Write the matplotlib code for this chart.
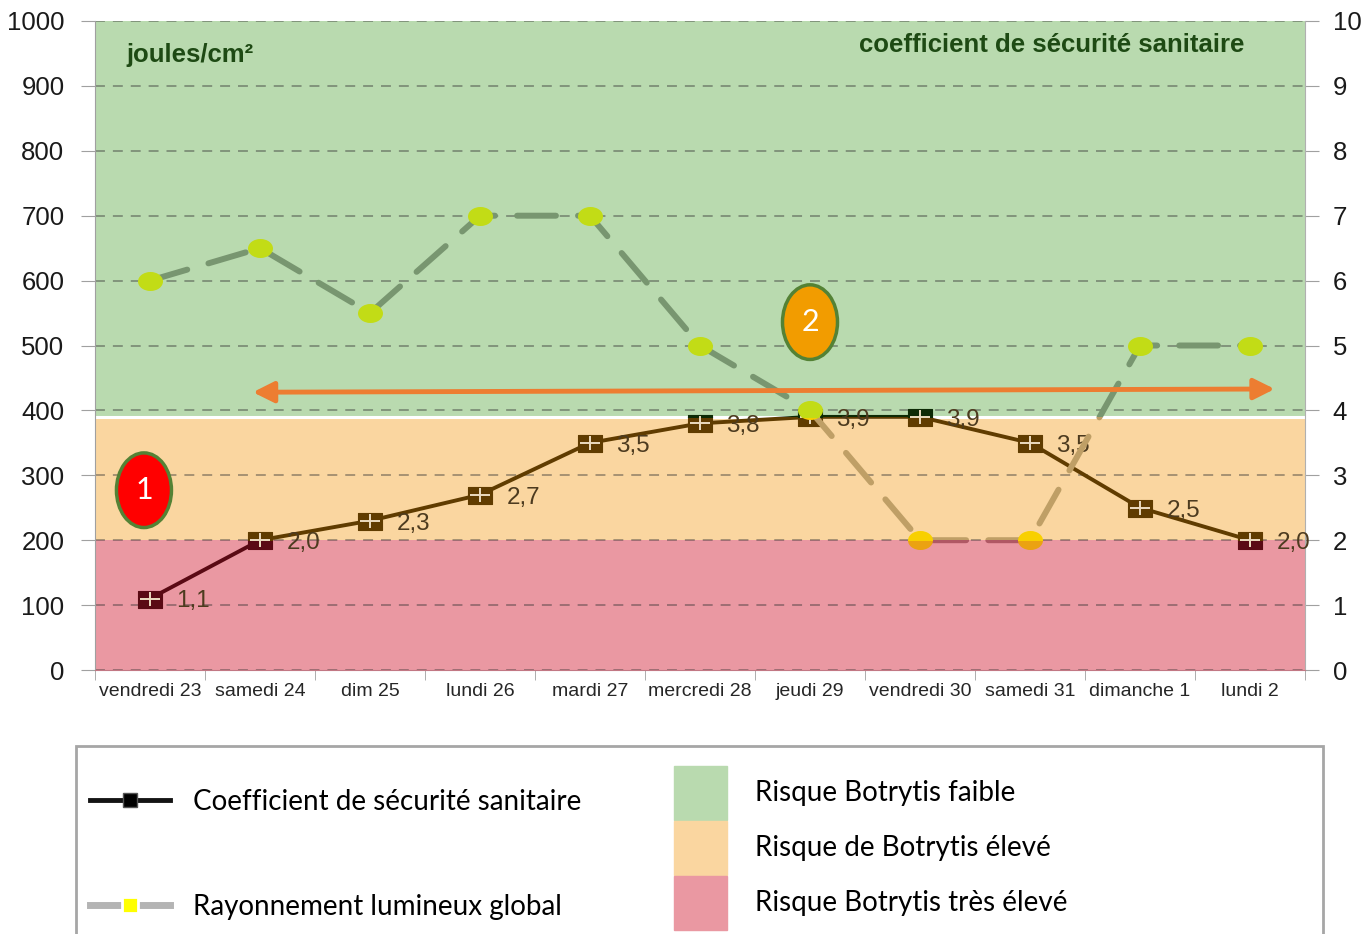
import numpy as np
import matplotlib.pyplot as plt
from matplotlib.path import Path
from matplotlib.patches import Rectangle, Ellipse, FancyArrowPatch, Patch
from matplotlib.lines import Line2D

# Données
jours = ["vendredi 23", "samedi 24", "dim 25", "lundi 26", "mardi 27", "mercredi 28",
         "jeudi 29", "vendredi 30", "samedi 31", "dimanche 1", "lundi 2"]
rayonnement = [600, 650, 550, 700, 700, 500, 400, 200, 200, 500, 500]  # joules/cm²
coefficient = [1.1, 2.0, 2.3, 2.7, 3.5, 3.8, 3.9, 3.9, 3.5, 2.5, 2.0]

# Seuils du coefficient : très élevé < 2 < élevé < 3,9 < faible
seuils = [0, 2.0, 3.9, 10]
zone_noms = ["Risque Botrytis très élevé", "Risque de Botrytis élevé", "Risque Botrytis faible"]
zone_couleurs = ["#ea98a2", "#fad6a0", "#b9daaf"]

# couleurs des courbes vues à travers chaque bande (rouge, orange, vert)
coef_couleurs = ["#5a0a14", "#603c00", "#0d2a05"]
ray_lignes = ["#b05864", "#bf9f66", "#789670"]
ray_points = ["#eba212", "#f8d000", "#c2dc16"]

plt.rcParams['font.family'] = ['Liberation Sans', 'DejaVu Sans']

fig = plt.figure(figsize=(13.62, 9.34), dpi=100)
ax = fig.add_axes([95 / 1362, 1 - 670 / 934, 1210 / 1362, 649 / 934])
ax2 = ax.twinx()
ax.set_zorder(ax2.get_zorder() + 1)
ax.patch.set_visible(False)

x = np.arange(len(jours))
ax.set_xlim(-0.5, len(jours) - 0.5)
ax.set_ylim(0, 1000)
ax2.set_ylim(0, 10)

# bandes de risque
for bas, haut, c in zip(seuils[:-1], seuils[1:], zone_couleurs):
    ax2.axhspan(bas, haut, color=c, lw=0, zorder=0.2)
ax2.axhline(seuils[2], color='white', lw=2.2, zorder=0.3)


def zone_clip(i):
    return Rectangle((-0.5, seuils[i]), len(jours), seuils[i + 1] - seuils[i],
                     transform=ax2.transData)


# marqueurs personnalisés
carre = Path([(-1, -0.72), (1, -0.72), (1, 0.72), (-1, 0.72), (-1, -0.72)], closed=True)
croix = Path([(-1, 0), (1, 0), (0, -0.72), (0, 0.72)],
             [Path.MOVETO, Path.LINETO, Path.MOVETO, Path.LINETO])
cercle = Path(Path.unit_circle().vertices * [1, 0.76], Path.unit_circle().codes)

for i in range(3):
    l, = ax2.plot(x, coefficient, color=coef_couleurs[i], lw=2.8, zorder=3)
    l.set_clip_path(zone_clip(i))
    m, = ax2.plot(x, coefficient, ls='none', marker=carre, ms=17,
                  mfc=coef_couleurs[i], mec=coef_couleurs[i], mew=0.8, zorder=4)
    m.set_clip_path(zone_clip(i))

    r, = ax.plot(x, rayonnement, color=ray_lignes[i], lw=4.3, ls=(0, (6.5, 3.7)),
                 dash_capstyle='round', zorder=3)
    r.set_clip_path(zone_clip(i))
    p, = ax.plot(x, rayonnement, ls='none', marker=cercle, ms=18,
                 mfc=ray_points[i], mec='none', zorder=4)
    p.set_clip_path(zone_clip(i))

ax2.plot(x, coefficient, ls='none', marker=croix, ms=14, mfc='none',
         mec='#ecdcc0', mew=1.4, zorder=5)

for xi, c in zip(x, coefficient):
    ax2.annotate(f"{c:.1f}".replace('.', ','), (xi, c), xytext=(19, -2),
                 textcoords='offset points', ha='left', va='center',
                 fontsize=17.5, color='#4d3b1f', zorder=6)

# textes dans le graphique
ax.text(0.026, 0.948, "joules/cm²", transform=ax.transAxes, fontsize=18.5,
        fontweight='bold', color='#1e4a14', ha='left', va='center')
ax.text(0.950, 0.963, "coefficient de sécurité sanitaire", transform=ax.transAxes,
        fontsize=18.5, fontweight='bold', color='#1e4a14', ha='right', va='center')

# pastilles 1 et 2
ax.add_patch(Ellipse((-0.055, 277), 0.5, 115, fc='#ff0000', ec='#548235', lw=2.5, zorder=7))
ax.text(-0.055, 277, "1", color='white', fontsize=22, ha='center', va='center',
        family='Lato', zorder=8)
x2 = jours.index("jeudi 29")
ax.add_patch(Ellipse((x2, 536), 0.5, 115, fc='#f29c00', ec='#548235', lw=2.5, zorder=7))
ax.text(x2, 536, "2", color='white', fontsize=22, ha='center', va='center',
        family='Lato', zorder=8)

# flèche double orange
ax.add_patch(FancyArrowPatch((0.91, 428), (10.25, 433),
                             arrowstyle='<|-|>,head_length=0.9,head_width=0.45',
                             mutation_scale=14, color='#ed7d31', lw=3.5, zorder=7))

# axes
ax.set_xticks(x)
ax.set_xticklabels(jours, fontsize=14, color='#262626')
ax.set_xticks(np.arange(-0.5, len(jours)), minor=True)
ax.tick_params(axis='x', which='major', length=0, pad=9)
ax.tick_params(axis='x', which='minor', length=7, color='#a0a0a0')
ax.set_yticks(range(0, 1001, 100))
ax.tick_params(axis='y', length=10, color='#a0a0a0', labelsize=18.5, pad=12, labelcolor='#1a1a1a')
ax2.set_yticks(range(0, 11))
ax2.tick_params(axis='y', length=10, color='#a0a0a0', labelsize=18.5, pad=10, labelcolor='#1a1a1a')

ax2.grid(axis='y', ls=(0, (5.5, 4.4)), color='#333333', alpha=0.45, lw=1.3)

for s in ['top', 'right']:
    ax.spines[s].set_visible(False)
for s in ['top', 'left', 'bottom']:
    ax2.spines[s].set_visible(False)
ax.spines['left'].set_color('#a0a0a0')
ax.spines['bottom'].set_color('#c27884')
ax2.spines['right'].set_color('#b0b0b0')

# légende
fig.add_artist(Rectangle((76 / 1362, -0.02), (1323 - 76) / 1362, 0.02 + 1 - 746 / 934,
                         transform=fig.transFigure, fill=False, ec='#a6a6a6', lw=2))

h_coef = Line2D([], [], color='#141414', lw=3.5, marker='s', ms=10, mfc='black', mec='#555555')
h_ray = Line2D([], [], color='#b4b4b4', lw=5, marker='s', ms=11, mfc='#ffff00', mec='white', mew=2)
fig.legend([h_coef, h_ray], ["Coefficient de sécurité sanitaire", "Rayonnement lumineux global"],
           loc='upper left', bbox_to_anchor=(90 / 1362, 1 - 789 / 934), frameon=False,
           prop={'family': 'Lato', 'size': 20}, handlelength=2.88, handletextpad=0.83,
           labelspacing=2.85, borderpad=0, borderaxespad=0)

h_zones = [Patch(color=c) for c in zone_couleurs[::-1]]
fig.legend(h_zones, zone_noms[::-1], loc='upper left', bbox_to_anchor=(674 / 1362, 1 - 766 / 934),
           frameon=False, prop={'family': 'Lato', 'size': 20}, handlelength=1.91,
           handleheight=2.61, handletextpad=1.0, labelspacing=0.04, borderpad=0, borderaxespad=0)

fig.savefig("out.png", dpi=100)
